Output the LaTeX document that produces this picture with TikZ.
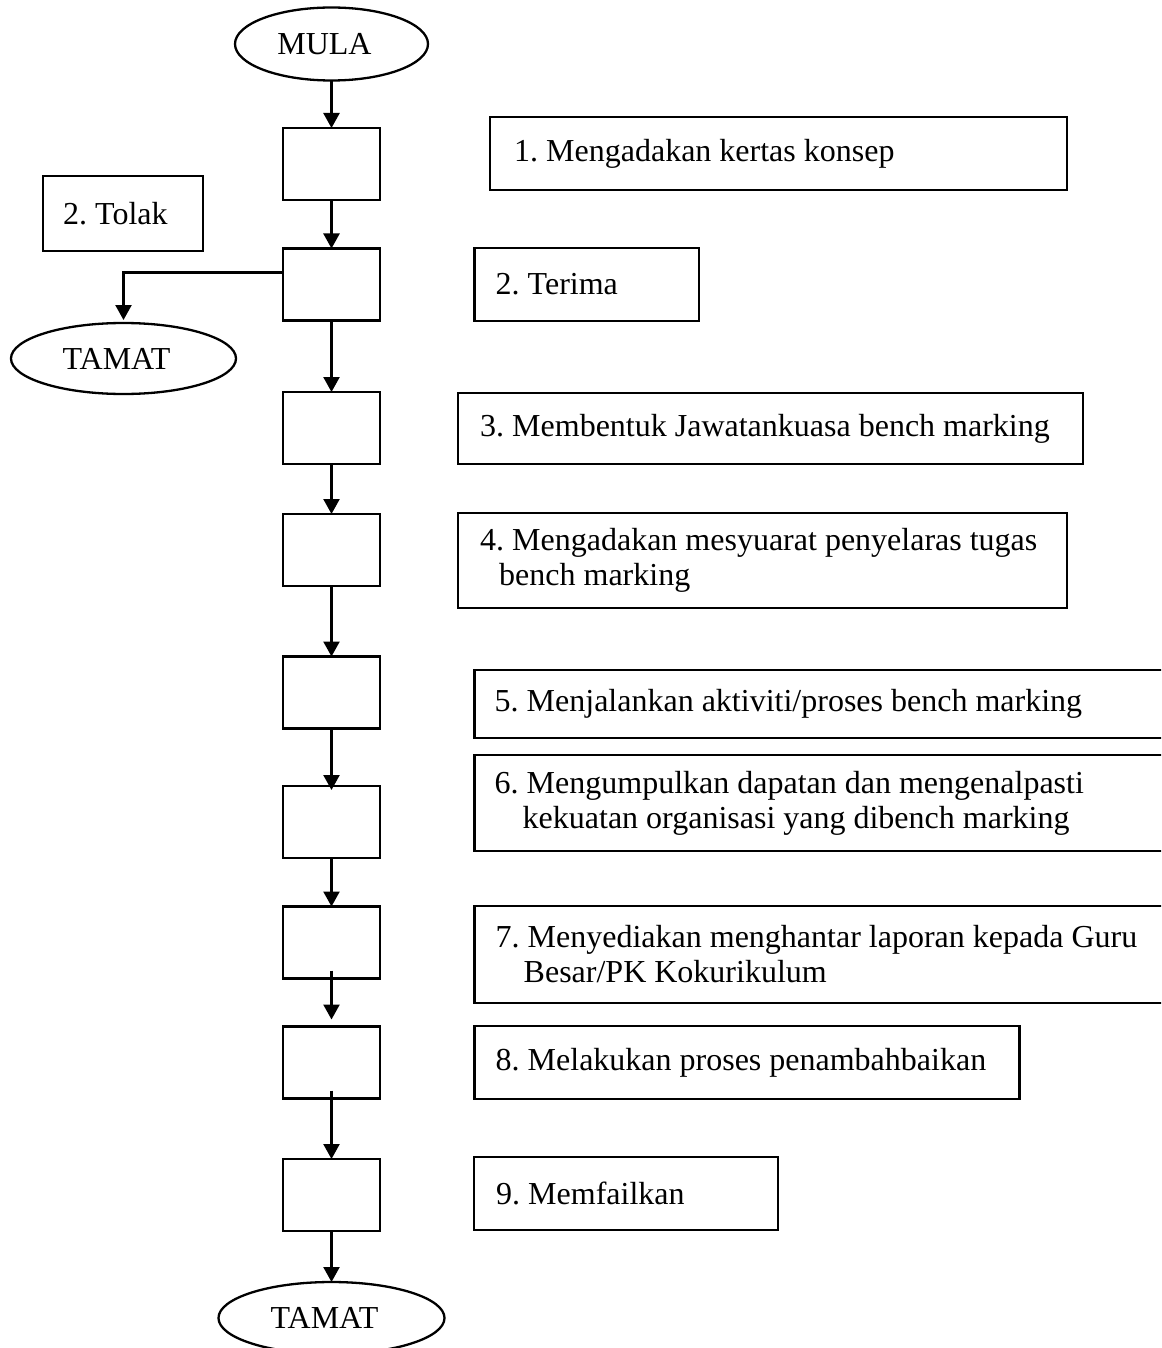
\documentclass[tikz,border=0pt]{standalone}
\usepackage{fontspec}
\setmainfont{Liberation Serif}
\usetikzlibrary{shapes.geometric,arrows.meta}
\frenchspacing
\begin{document}
\begin{tikzpicture}[x=1pt,y=-1pt,
  stepbox/.style={draw, line width=2.3pt, minimum width=97pt, minimum height=72pt, inner sep=0pt, outer sep=0pt},
  framebox/.style={draw, line width=2.3pt, inner sep=0pt, outer sep=0pt, anchor=north west},
  txt/.style={inner sep=0pt, anchor=west, align=left, font=\fontsize{32}{35}\selectfont},
  term/.style={draw, ellipse, line width=2.3pt, inner sep=0pt, outer sep=0pt, font=\fontsize{32}{38}\selectfont},
  flow/.style={line width=2.3pt, -{Triangle[length=15pt,width=16pt]}}]
\useasboundingbox (0,0) rectangle (1161,1348);
\clip (0,0) rectangle (1161,1348);

% start / end terminals
\node[term, minimum width=193pt, minimum height=73pt] (mula) at (331.5,44) {\hspace*{-14pt}MULA};
\node[term, minimum width=225pt, minimum height=71pt] (tamatA) at (123.5,358.5) {\hspace*{-14pt}TAMAT};
\node[term, minimum width=226pt, minimum height=72pt] (tamatB) at (331.5,1318) {\hspace*{-14pt}TAMAT};

% process boxes on the main line
\node[stepbox] (b1) at (331.5,164) {};
\node[stepbox] (b2) at (331.5,284.5) {};
\node[stepbox] (b3) at (331.5,428) {};
\node[stepbox] (b4) at (331.5,550) {};
\node[stepbox] (b5) at (331.5,692.5) {};
\node[stepbox] (b6) at (331.5,822) {};
\node[stepbox] (b7) at (331.5,942.5) {};
\node[stepbox] (b8) at (331.5,1062.5) {};
\node[stepbox] (b9) at (331.5,1195) {};

% description boxes
\node[framebox, minimum width=160pt, minimum height=75pt] (d0) at (43,176) {};
\node[txt] (l0) at ([xshift=20pt]d0.west) {2. Tolak};

\node[framebox, minimum width=577pt, minimum height=73pt] (d1) at (490,117) {};
\node[txt] (l1) at ([xshift=24pt]d1.west) {1. Mengadakan kertas konsep};

\node[framebox, minimum width=224.5pt, minimum height=73pt] (d2) at (474.5,248) {};
\node[txt] (l2) at ([xshift=21pt]d2.west) {2. Terima};

\node[framebox, minimum width=625pt, minimum height=71pt] (d3) at (458,393) {};
\node[txt] (l3) at ([xshift=22pt]d3.west) {3. Membentuk Jawatankuasa bench marking};

\node[framebox, minimum width=609pt, minimum height=95pt] (d4) at (458,513) {};
\node[txt] (l4) at ([xshift=22pt]d4.west) {4. Mengadakan mesyuarat penyelaras tugas\\\hspace*{19pt}bench marking};

\node[framebox, minimum width=730pt, minimum height=68pt] (d5) at (474.5,670) {};
\node[txt] (l5) at ([xshift=20pt]d5.west) {5. Menjalankan aktiviti/proses bench marking};

\node[framebox, minimum width=730pt, minimum height=96pt] (d6) at (474.5,755) {};
\node[txt] (l6) at ([xshift=20pt]d6.west) {6. Mengumpulkan dapatan dan mengenalpasti\\\hspace*{28pt}kekuatan organisasi yang dibench marking};

\node[framebox, minimum width=730pt, minimum height=97pt] (d7) at (474.5,906) {};
\node[txt] (l7) at ([xshift=21pt]d7.west) {7. Menyediakan menghantar laporan kepada Guru\\\hspace*{28pt}Besar/PK Kokurikulum};

\node[framebox, minimum width=545pt, minimum height=73pt] (d8) at (474.5,1026) {};
\node[txt] (l8) at ([xshift=21pt]d8.west) {8. Melakukan proses penambahbaikan};

\node[framebox, minimum width=304pt, minimum height=73pt] (d9) at (474,1157) {};
\node[txt] (l9) at ([xshift=22pt]d9.west) {9. Memfailkan};

% connectors
\draw[flow] (mula) -- (b1);
\draw[flow] (b1) -- (b2);
\draw[flow] (b2) -- (b3);
\draw[flow] (b3) -- (b4);
\draw[flow] (b4) -- (b5);
\draw[flow, shorten >=-4pt] (b5) -- (b6);
\draw[flow] (b6) -- (b7);
\draw[flow, shorten <=-8pt, shorten >=7pt] (b7) -- (b8);
\draw[flow, shorten <=-8pt] (b8) -- (b9);
\draw[flow] (b9) -- (b9.south |- tamatB.north);
\draw[flow, shorten >=3pt] ([yshift=12pt]b2.west) -| (tamatA.north);
\end{tikzpicture}
\end{document}
